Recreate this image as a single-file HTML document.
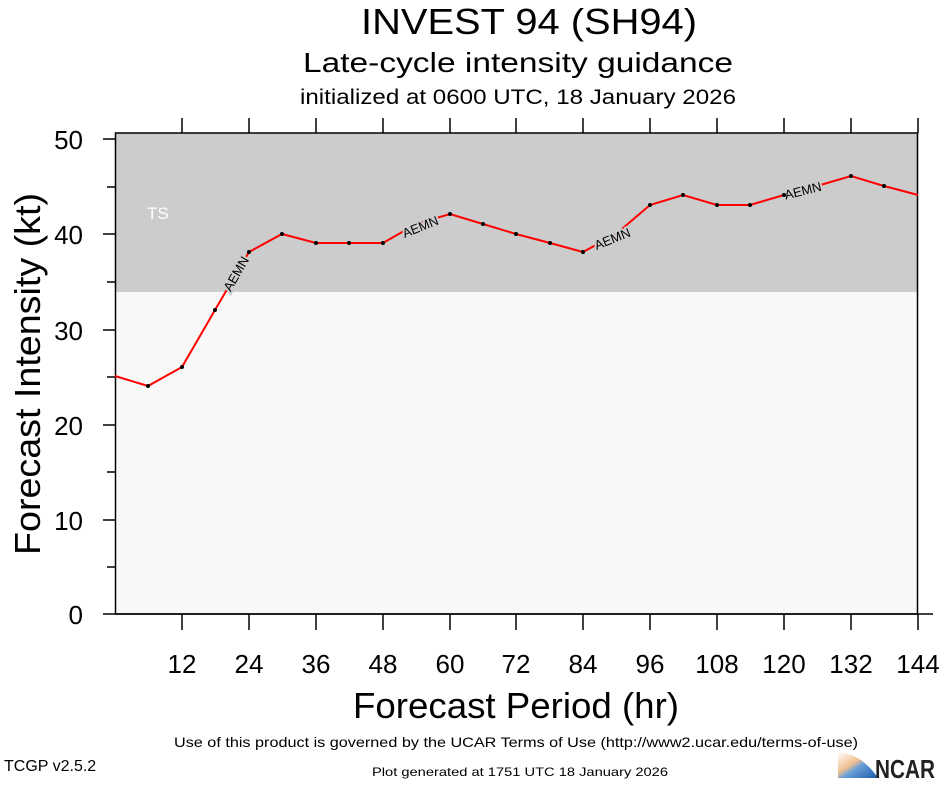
<!DOCTYPE html>
<html><head><style>body{margin:0;background:#fff}svg text{font-family:"Liberation Sans",Arial,sans-serif}</style></head><body>
<svg width="940" height="780" viewBox="0 0 940 780" xmlns="http://www.w3.org/2000/svg">
<text x="529" y="34" font-size="36" text-anchor="middle" textLength="336" lengthAdjust="spacingAndGlyphs">INVEST 94 (SH94)</text>
<text x="518" y="72" font-size="28" text-anchor="middle" textLength="430" lengthAdjust="spacingAndGlyphs">Late-cycle intensity guidance</text>
<text x="518" y="104" font-size="21" text-anchor="middle" textLength="436" lengthAdjust="spacingAndGlyphs">initialized at 0600 UTC, 18 January 2026</text>
<rect x="115" y="133" width="803" height="159" fill="#cccccc"/>
<rect x="115" y="292" width="803" height="322" fill="#f8f8f8"/>
<text x="147" y="219" font-size="17" fill="#fff">TS</text>
<g stroke="#000" stroke-width="1.5" fill="none">
<rect x="115.5" y="133" width="802" height="481"/>
<line x1="115" y1="614" x2="933" y2="614"/>
<path d="M182 133V118M249 133V118M316 133V118M383 133V118M450 133V118M516 133V118M583 133V118M650 133V118M717 133V118M784 133V118M851 133V118M918 133V118"/>
<path d="M182 614V630M249 614V630M316 614V630M383 614V630M450 614V630M516 614V630M583 614V630M650 614V630M717 614V630M784 614V630M851 614V630M918 614V630"/>
<path d="M103 139H115M107 187H115M103 234H115M107 282H115M103 330H115M107 377H115M103 425H115M107 472H115M103 520H115M107 567H115M103 614H115"/>
</g>
<g font-size="26" text-anchor="end"><text x="83" y="149">50</text><text x="83" y="244">40</text><text x="83" y="340">30</text><text x="83" y="435">20</text><text x="83" y="530">10</text><text x="83" y="624">0</text></g>
<g font-size="26" text-anchor="middle"><text x="182" y="673">12</text><text x="249" y="673">24</text><text x="316" y="673">36</text><text x="383" y="673">48</text><text x="450" y="673">60</text><text x="516" y="673">72</text><text x="583" y="673">84</text><text x="650" y="673">96</text><text x="717" y="673">108</text><text x="784" y="673">120</text><text x="851" y="673">132</text><text x="918" y="673">144</text></g>
<text x="516" y="718" font-size="36" text-anchor="middle" textLength="326" lengthAdjust="spacingAndGlyphs">Forecast Period (hr)</text>
<text transform="translate(40,374) rotate(-90)" font-size="36" text-anchor="middle" textLength="362" lengthAdjust="spacingAndGlyphs">Forecast Intensity (kt)</text>
<polyline fill="none" stroke="#f00" stroke-width="2" points="115,376 148,386 182,367 215,310 249,252 282,234 316,243 349,243 383,243 416,224 450,214 483,224 516,234 550,243 583,252 616,234 650,205 683,195 717,205 750,205 784,195 817,186 851,176 884,186 918,195"/>
<g font-size="13" fill="#000" stroke="#cccccc" stroke-width="4" paint-order="stroke" text-anchor="middle">
<text transform="translate(240,276) rotate(-60)">AEMN</text>
<text transform="translate(422,231) rotate(-22)">AEMN</text>
<text transform="translate(614,243) rotate(-22)">AEMN</text>
<text transform="translate(804,195) rotate(-14)">AEMN</text>
</g>
<g fill="#000"><circle cx="148" cy="386" r="2"/><circle cx="182" cy="367" r="2"/><circle cx="215" cy="310" r="2"/><circle cx="249" cy="252" r="2"/><circle cx="282" cy="234" r="2"/><circle cx="316" cy="243" r="2"/><circle cx="349" cy="243" r="2"/><circle cx="383" cy="243" r="2"/><circle cx="450" cy="214" r="2"/><circle cx="483" cy="224" r="2"/><circle cx="516" cy="234" r="2"/><circle cx="550" cy="243" r="2"/><circle cx="583" cy="252" r="2"/><circle cx="650" cy="205" r="2"/><circle cx="683" cy="195" r="2"/><circle cx="717" cy="205" r="2"/><circle cx="750" cy="205" r="2"/><circle cx="784" cy="195" r="2"/><circle cx="851" cy="176" r="2"/><circle cx="884" cy="186" r="2"/></g>
<text x="516" y="747" font-size="14" text-anchor="middle" textLength="684" lengthAdjust="spacingAndGlyphs">Use of this product is governed by the UCAR Terms of Use (http://www2.ucar.edu/terms-of-use)</text>
<text x="4" y="771" font-size="16">TCGP v2.5.2</text>
<text x="520" y="776" font-size="12" text-anchor="middle" textLength="296" lengthAdjust="spacingAndGlyphs">Plot generated at 1751 UTC   18 January 2026</text>
<defs><linearGradient id="g" x1="0" y1="0" x2="1" y2="1"><stop offset="0" stop-color="#fff"/><stop offset="0.4" stop-color="#f0c090"/><stop offset="0.55" stop-color="#6a9fd8"/><stop offset="1" stop-color="#1a5aa8"/></linearGradient></defs>
<path d="M838 752 Q862 754 878 778 L838 778Z" fill="url(#g)"/>
<text x="875" y="778" font-size="26" font-weight="bold" fill="#222" textLength="60" lengthAdjust="spacingAndGlyphs">NCAR</text>
</svg>
</body></html>
